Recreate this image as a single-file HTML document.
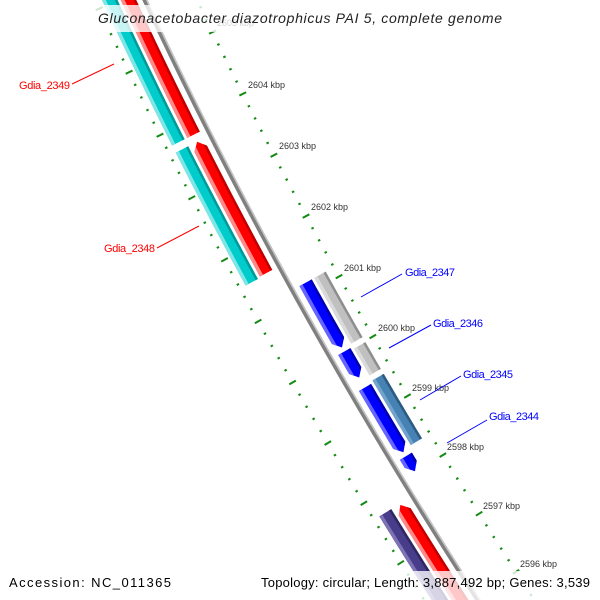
<!DOCTYPE html>
<html><head><meta charset="utf-8"><style>html,body{margin:0;padding:0;background:#fff;width:600px;height:600px;overflow:hidden}svg{display:block;overflow:hidden}</style></head>
<body>
<svg id="s" width="600" height="600" viewBox="0 0 600 600" xmlns="http://www.w3.org/2000/svg" font-family="Liberation Sans, sans-serif">
<defs><clipPath id="c"><rect width="600" height="600"/></clipPath></defs>
<rect width="600" height="600" fill="#fff"/>
<g clip-path="url(#c)">
<g id="g"></g>
<g id="t" font-size="9" fill="#333">
<text x="217" y="26" textLength="37">2605 kbp</text>
<text x="248" y="88" textLength="37">2604 kbp</text>
<text x="279" y="149" textLength="37">2603 kbp</text>
<text x="311" y="210" textLength="37">2602 kbp</text>
<text x="344" y="271" textLength="37">2601 kbp</text>
<text x="378" y="331" textLength="37">2600 kbp</text>
<text x="412" y="391" textLength="37">2599 kbp</text>
<text x="447" y="450" textLength="37">2598 kbp</text>
<text x="483" y="509" textLength="37">2597 kbp</text>
<text x="520" y="567" textLength="37">2596 kbp</text>
</g>
<g font-size="11">
<line x1="72" y1="84" x2="114" y2="64" stroke="#f00"/>
<text x="19" y="89" fill="#f00" textLength="51">Gdia_2349</text>
<line x1="157" y1="248" x2="199" y2="226" stroke="#f00"/>
<text x="104" y="252" fill="#f00" textLength="51">Gdia_2348</text>
<line x1="361" y1="297" x2="402" y2="274" stroke="#00f"/>
<text x="405" y="276" fill="#00f" textLength="50">Gdia_2347</text>
<line x1="389" y1="348" x2="431" y2="325" stroke="#00f"/>
<text x="433" y="327" fill="#00f" textLength="50">Gdia_2346</text>
<line x1="420" y1="400" x2="461" y2="376" stroke="#00f"/>
<text x="463" y="378" fill="#00f" textLength="50">Gdia_2345</text>
<line x1="447" y1="443" x2="487" y2="420" stroke="#00f"/>
<text x="489" y="420" fill="#00f" textLength="50">Gdia_2344</text>
</g>
<rect x="95" y="5" width="412" height="27" fill="#fff" fill-opacity="0.78"/>
<text x="98" y="23" font-size="14" font-style="italic" fill="#222" textLength="404">Gluconacetobacter diazotrophicus PAI 5, complete genome</text>
<rect x="0" y="571" width="600" height="29" fill="#fff" fill-opacity="0.78"/>
<text x="9" y="587" font-size="13" fill="#000" textLength="162">Accession: NC_011365</text>
<text x="261" y="587" font-size="13" fill="#000" textLength="329">Topology: circular; Length: 3,887,492 bp; Genes: 3,539</text>
</g>
</svg>
<script>
(function(){
var NS="http://www.w3.org/2000/svg",g=document.getElementById("g");
function xb(y){return 145+0.465*y+0.00015*y*y;}
function mb(y){return 0.465+0.0003*y;}
function P(yb,v){var m=mb(yb),L=Math.sqrt(1+m*m);return [xb(yb)+v/L,yb-v*m/L];}
function poly(pts,col){var p=document.createElementNS(NS,"polygon");
 p.setAttribute("points",pts.map(function(q){return q[0].toFixed(2)+","+q[1].toFixed(2)}).join(" "));
 p.setAttribute("fill",col);g.appendChild(p);}
function strip(y1,y2,v1,v2,a,b,col,arrow){
 var h=7,vc=(v1+v2)/2,hw=(v2-v1)/2;
 function e(v){return arrow=="down"?y2-h*Math.abs(v-vc)/hw:y2;}
 function s(v){return arrow=="up"?y1+h*Math.abs(v-vc)/hw:y1;}
 var pts=[],y,st=4;
 for(y=s(a);y<e(a);y+=st)pts.push(P(y,a));pts.push(P(e(a),a));
 if(arrow=="down"&&vc>a&&vc<b)pts.push(P(y2,vc));
 var back=[];for(y=s(b);y<e(b);y+=st)back.push(P(y,b));back.push(P(e(b),b));
 pts=pts.concat(back.reverse());
 if(arrow=="up"&&vc>a&&vc<b)pts.push(P(y1,vc));
 poly(pts,col);}
function feat(y1,y2,v1,v2,c,arrow){
 strip(y1,y2,v1,v2,v1,v2,c[1],arrow);
 strip(y1,y2,v1,v2,v1,v1+3.5,c[0],arrow);
 strip(y1,y2,v1,v2,v2-2.5,v2,c[2],arrow);}
var CY=["#7fe6e6","#00cccc","#009a9a"],RD=["#ff8a8a","#ff0000","#c00000"],
BL=["#6666ff","#0000ff","#0000b0"],GR=["#dadada","#c0c0c0","#8e8e8e"],
SB=["#73a3cc","#4682b4","#2c5a80"],PU=["#7c72b4","#483d8b","#2e2760"];
strip(-60,680,-2.5,2.5,-2.5,1,"#808080","");
strip(-60,680,-2.5,2.5,1,2.5,"#c4c4c4","");
feat(-80,128,-39,-25,CY,"");
feat(135,267,-39,-25,CY,"");
feat(-80,128,-22,-8,RD,"");
feat(135,266,-22,-8,RD,"up");
feat(496,660,-39,-25,PU,"");
feat(497,660,-22,-8,RD,"up");
feat(290,355,8,22,BL,"down");
feat(359,385,8,22,BL,"down");
feat(395,460,8,22,BL,"down");
feat(464,479,8,22,BL,"down");
feat(290,356,25,38,GR,"");
feat(361,388,25,38,GR,"");
feat(393,458,25,38,SB,"");
var Sy=[],y0=-150,dy=0.5,acc=0;
for(var i=0;i<=2000;i++){var yy=y0+i*dy;Sy.push(acc);var m=mb(yy);acc+=Math.sqrt(1+m*m)*dy;}
function S(y){return Sy[Math.round((y-y0)/dy)];}
function Yof(s){for(var i=1;i<Sy.length;i++){if(Sy[i]>=s){return y0+(i-1)*dy+dy*(s-Sy[i-1])/(Sy[i]-Sy[i-1]);}}return 9999;}
var s0=S(115),per=69.5;
function tick(yb,va,vb,w){var a=P(yb,va),b=P(yb,vb);var l=document.createElementNS(NS,"line");
 l.setAttribute("x1",a[0]);l.setAttribute("y1",a[1]);l.setAttribute("x2",b[0]);l.setAttribute("y2",b[1]);
 l.setAttribute("stroke","#138a13");l.setAttribute("stroke-width",w);g.appendChild(l);}
for(var k=0;k<=75;k++){var kb=2608-k*0.2;var s=s0+(2604-kb)*per;var yb=Yof(s);if(yb>660)break;
 var big=(k%5==0);
 if(big){tick(yb,43.5,51,2);tick(yb,-49,-41.5,2);}
 else{tick(yb,46,48.5,2);tick(yb,-46.5,-44,2);}}
})();
</script>
</body></html>
